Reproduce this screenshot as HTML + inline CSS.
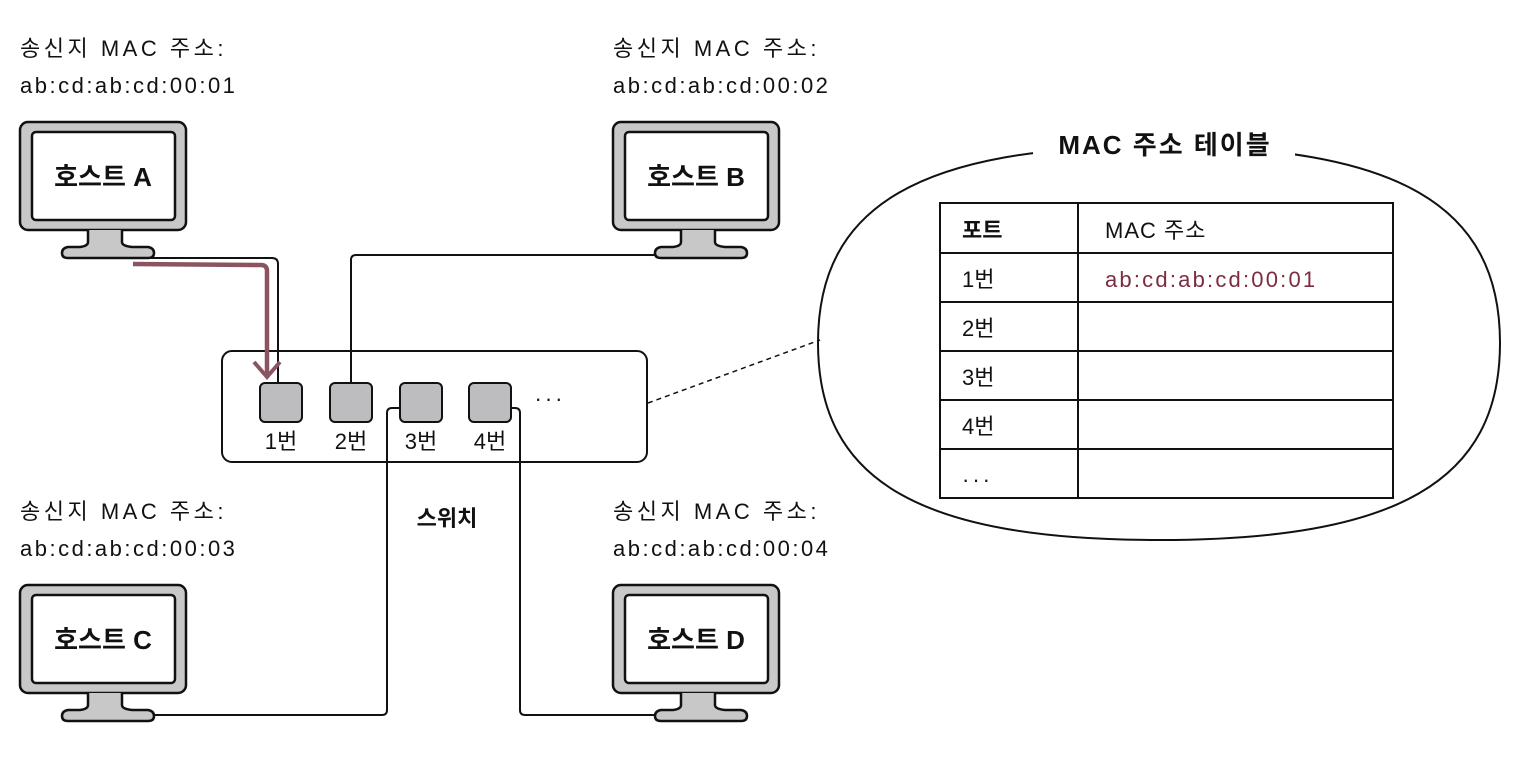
<!DOCTYPE html>
<html><head><meta charset="utf-8"><style>
body{margin:0;background:#fff;}
svg{display:block;font-family:"Liberation Sans","Noto Sans CJK KR",sans-serif;}
</style></head><body>
<svg width="1518" height="766" viewBox="0 0 1518 766">
<defs>
<g id="mon">
<rect x="0" y="0" width="166" height="108" rx="8" fill="#c8c8c8" stroke="#111" stroke-width="2.5"/>
<rect x="12" y="10" width="143" height="88" rx="4" fill="#fff" stroke="#111" stroke-width="2.5"/>
<path d="M68 108 L68 120 Q68 124 60 125 L48 125 Q42 126 42 131 Q42 136 48 136 L128 136 Q134 136 134 131 Q134 126 128 125 L112 125 Q102 124 102 120 L102 108" fill="#c8c8c8" stroke="#111" stroke-width="2.5"/>
</g>
</defs>
<g fill="none" stroke="#111" stroke-width="2">
<path d="M150 258 L272 258 Q278 258 278 264 L278 383"/>
<path d="M351 382 L351 260 Q351 255 356 255 L655 255"/>
<path d="M400 408 L392 408 Q387 408 387 413 L387 710 Q387 715 382 715 L150 715"/>
<path d="M512 408 L515 408 Q520 408 520 413 L520 710 Q520 715 525 715 L655 715"/>
</g>
<use href="#mon" x="20" y="122"/>
<use href="#mon" x="613" y="122"/>
<use href="#mon" x="20" y="585"/>
<use href="#mon" x="613" y="585"/>
<g font-size="26" font-weight="bold" fill="#111" text-anchor="middle">
<text x="103" y="186">호스트 A</text>
<text x="696" y="186">호스트 B</text>
<text x="103" y="649">호스트 C</text>
<text x="696" y="649">호스트 D</text>
</g>
<g font-size="22" fill="#111">
<g letter-spacing="3.5">
<text x="20" y="56">송신지 MAC 주소:</text>
<text x="613" y="56">송신지 MAC 주소:</text>
<text x="20" y="519">송신지 MAC 주소:</text>
<text x="613" y="519">송신지 MAC 주소:</text>
</g>
<g letter-spacing="2.5">
<text x="20" y="93">ab:cd:ab:cd:00:01</text>
<text x="613" y="93">ab:cd:ab:cd:00:02</text>
<text x="20" y="556">ab:cd:ab:cd:00:03</text>
<text x="613" y="556">ab:cd:ab:cd:00:04</text>
</g>
</g>
<rect x="222" y="351" width="425" height="111" rx="10" fill="none" stroke="#111" stroke-width="2"/>
<g fill="#bdbdbf" stroke="#111" stroke-width="2">
<rect x="260" y="383" width="42" height="39" rx="5"/>
<rect x="330" y="383" width="42" height="39" rx="5"/>
<rect x="400" y="383" width="42" height="39" rx="5"/>
<rect x="469" y="383" width="42" height="39" rx="5"/>
</g>
<g font-size="22" fill="#111" text-anchor="middle">
<text x="281" y="449">1번</text>
<text x="351" y="449">2번</text>
<text x="421" y="449">3번</text>
<text x="490" y="449">4번</text>
<text x="550" y="406" letter-spacing="3">···</text>
<text x="447" y="526" font-weight="bold">스위치</text>
</g>
<path d="M133 264 L261 265 Q267 265 267 271 L267 374" fill="none" stroke="#8a5560" stroke-width="4.5"/>
<path d="M254 362 L267 377 L280 362" fill="none" stroke="#8a5560" stroke-width="4"/>
<line x1="648" y1="403" x2="820" y2="340" stroke="#111" stroke-width="1.5" stroke-dasharray="5,4"/>
<path d="M818 343 C818 205,920 146,1159 146 C1398 146,1500 205,1500 343 C1500 481,1398 540,1159 540 C920 540,818 481,818 343 Z" fill="none" stroke="#111" stroke-width="2"/>
<rect x="1033" y="125" width="262" height="40" fill="#fff"/>
<text x="1165" y="154" font-size="26" font-weight="bold" text-anchor="middle" fill="#111" letter-spacing="2">MAC 주소 테이블</text>
<g fill="none" stroke="#111" stroke-width="2">
<rect x="940" y="203" width="453" height="295"/>
<line x1="1078" y1="203" x2="1078" y2="498"/>
<line x1="940" y1="253" x2="1393" y2="253"/>
<line x1="940" y1="302" x2="1393" y2="302"/>
<line x1="940" y1="351" x2="1393" y2="351"/>
<line x1="940" y1="400" x2="1393" y2="400"/>
<line x1="940" y1="449" x2="1393" y2="449"/>
</g>
<g font-size="22" fill="#111">
<text x="962" y="238" font-weight="bold">포트</text>
<text x="1105" y="238" letter-spacing="1">MAC 주소</text>
<text x="962" y="287">1번</text>
<text x="1105" y="287" fill="#7a2c40" letter-spacing="2.2">ab:cd:ab:cd:00:01</text>
<text x="962" y="336">2번</text>
<text x="962" y="385">3번</text>
<text x="962" y="434">4번</text>
<text x="962" y="487" letter-spacing="3">···</text>
</g>
</svg>
</body></html>
